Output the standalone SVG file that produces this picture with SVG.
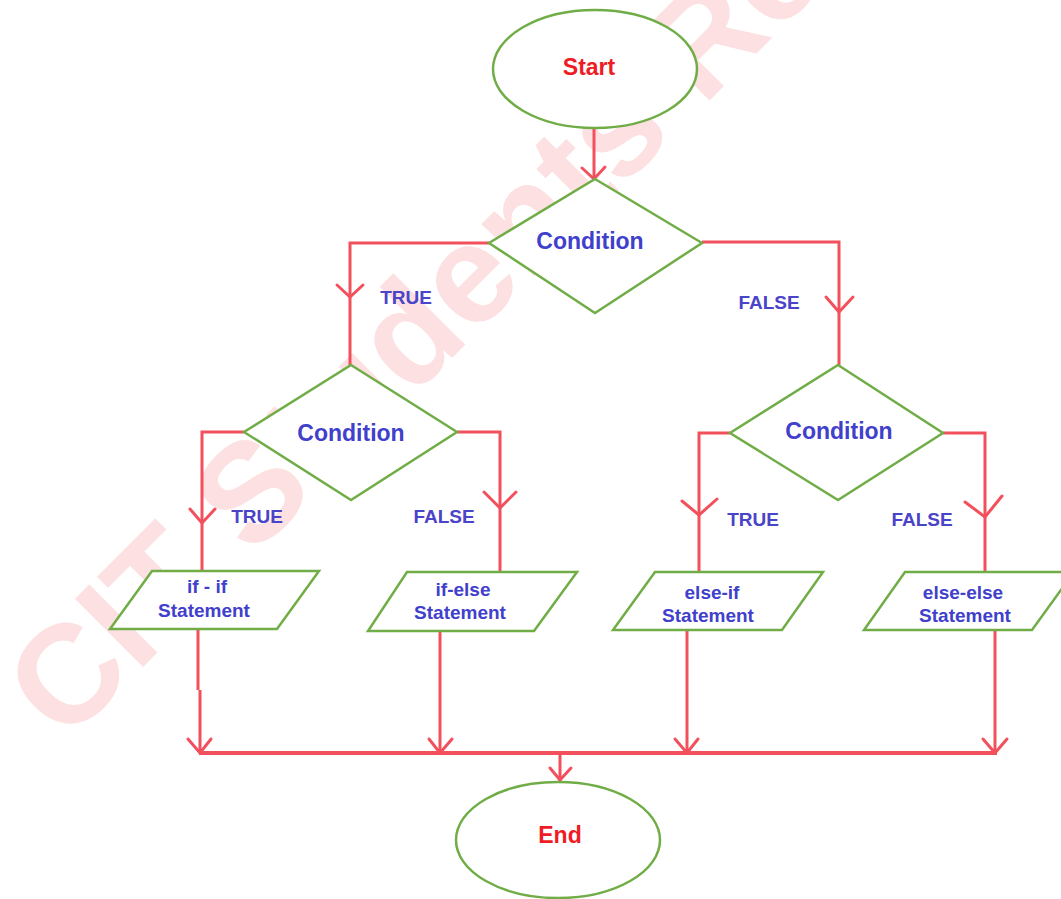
<svg xmlns="http://www.w3.org/2000/svg" width="1061" height="899" viewBox="0 0 1061 899">
  <style>
    .node { fill: #ffffff; stroke: #70ad47; stroke-width: 2.5; }
    .wire { fill: none; stroke: #f2505c; stroke-width: 3; stroke-linejoin: miter; }
    .bus { fill: none; stroke: #f2505c; stroke-width: 4; }
    .arrow { fill: none; stroke: #f2505c; stroke-width: 3; stroke-linejoin: miter; stroke-linecap: round; }
    .term { font-family: "Liberation Sans", Arial, sans-serif; font-weight: bold; font-size: 23px; fill: #ee1c25; text-anchor: middle; }
    .cond { font-family: "Liberation Sans", Arial, sans-serif; font-weight: bold; font-size: 23px; fill: #4040cc; text-anchor: middle; }
    .label { font-family: "Liberation Sans", Arial, sans-serif; font-weight: bold; font-size: 19px; fill: #4a44c8; text-anchor: middle; }
    .stmt { font-family: "Liberation Sans", Arial, sans-serif; font-weight: bold; font-size: 19px; fill: #4040cc; text-anchor: middle; }
    .mark { font-family: "Liberation Sans", Arial, sans-serif; font-weight: bold; font-size: 140px; fill: #fde0e1; }
  </style>

  <rect width="1061" height="899" fill="#ffffff"/>

  <!-- diagonal watermark -->
  <text class="mark" transform="translate(65,745) rotate(-45)">CIT Students Re</text>

  <!-- connectors -->
  <g id="connectors">
    <!-- start to first decision -->
    <path class="wire" d="M594 128 V180"/>
    <polyline class="arrow" points="582,168 594,179 605,167"/>

    <!-- first decision branches -->
    <path class="wire" d="M489 243 H350 V365"/>
    <polyline class="arrow" points="337,285 350,297 363,285"/>
    <path class="wire" d="M702 242 H839 V365"/>
    <polyline class="arrow" points="826,297 839,312 853,297"/>

    <!-- left decision branches -->
    <path class="wire" d="M244 432 H202 V571"/>
    <polyline class="arrow" points="190,509 202,523 215,509"/>
    <path class="wire" d="M457 432 H500 V572"/>
    <polyline class="arrow" points="484,492 500,508 516,492"/>

    <!-- right decision branches -->
    <path class="wire" d="M730 433 H699 V572"/>
    <polyline class="arrow" points="682,501 699,515 717,499"/>
    <path class="wire" d="M943 433 H985 V572"/>
    <polyline class="arrow" points="965,502 985,517 1002,496"/>

    <!-- statements down to the merge line -->
    <path class="wire" d="M198 629 V690 M200 690 V753"/>
    <polyline class="arrow" points="188,739 200,753 211,739"/>
    <path class="wire" d="M440 631 V753"/>
    <polyline class="arrow" points="429,739 440,753 452,739"/>
    <path class="wire" d="M687 631 V753"/>
    <polyline class="arrow" points="675,739 687,753 698,739"/>
    <path class="wire" d="M995 631 V753"/>
    <polyline class="arrow" points="983,739 995,753 1007,739"/>

    <!-- merge line and drop into end -->
    <path class="bus" d="M199 753 H997"/>
    <path class="wire" d="M560 753 V781"/>
    <polyline class="arrow" points="550,768 560,780 571,768"/>
  </g>

  <g id="start">
    <ellipse class="node" cx="595" cy="69" rx="102" ry="59"/>
    <text class="term" x="589" y="75">Start</text>
  </g>

  <g id="cond-top">
    <polygon class="node" points="595,179 702,243 595,313 489,243"/>
    <text class="cond" x="590" y="249">Condition</text>
  </g>
  <text class="label" x="406" y="304">TRUE</text>
  <text class="label" x="769" y="309">FALSE</text>

  <g id="cond-left">
    <polygon class="node" points="351,365 457,432 351,500 244,432"/>
    <text class="cond" x="351" y="441">Condition</text>
  </g>
  <text class="label" x="257" y="523">TRUE</text>
  <text class="label" x="444" y="523">FALSE</text>

  <g id="cond-right">
    <polygon class="node" points="838,365 943,433 838,500 730,433"/>
    <text class="cond" x="839" y="439">Condition</text>
  </g>
  <text class="label" x="753" y="526">TRUE</text>
  <text class="label" x="922" y="526">FALSE</text>

  <g id="stmt-if-if">
    <polygon class="node" points="152,571 319,571 277,629 110,629"/>
    <text class="stmt" x="207" y="593">if - if</text>
    <text class="stmt" x="204" y="617">Statement</text>
  </g>

  <g id="stmt-if-else">
    <polygon class="node" points="407,572 577,572 534,631 368,631"/>
    <text class="stmt" x="463" y="596">if-else</text>
    <text class="stmt" x="460" y="619">Statement</text>
  </g>

  <g id="stmt-else-if">
    <polygon class="node" points="655,572 823,572 782,630 613,630"/>
    <text class="stmt" x="712" y="599">else-if</text>
    <text class="stmt" x="708" y="622">Statement</text>
  </g>

  <g id="stmt-else-else">
    <polygon class="node" points="905,572 1074,572 1032,630 864,630"/>
    <text class="stmt" x="963" y="599">else-else</text>
    <text class="stmt" x="965" y="622">Statement</text>
  </g>

  <g id="end">
    <ellipse class="node" cx="558" cy="840" rx="102" ry="58"/>
    <text class="term" x="560" y="843">End</text>
  </g>
</svg>
